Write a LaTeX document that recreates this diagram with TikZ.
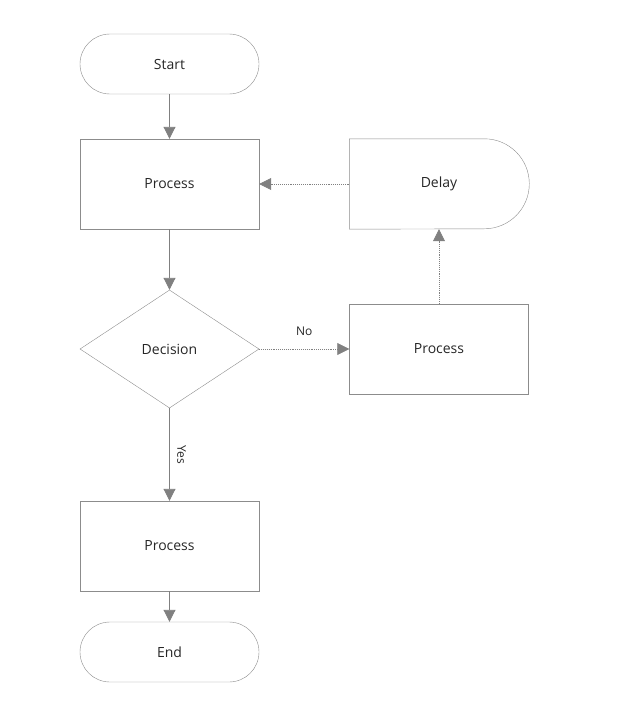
\documentclass[tikz,border=0pt]{standalone}
\usepackage{fontspec}
\setmainfont{Open Sans}
\usetikzlibrary{shapes.geometric,arrows.meta}
\tikzset{
  box/.style={draw=gray!90,minimum width=179pt,minimum height=90pt,font=\fontsize{14}{16}\selectfont,text=black!85},
  term/.style={box,rounded corners=30pt,minimum height=60pt},
  dec/.style={draw=gray!90,diamond,aspect=1.52,minimum width=179pt,minimum height=118pt,inner sep=0pt,font=\fontsize{14}{16}\selectfont,text=black!85},
  flow/.style={draw=gray,line width=0.9pt,-{Triangle[length=12pt,width=12pt]}},
  dflow/.style={flow,densely dotted,line width=0.7pt},
  lbl/.style={font=\fontsize{12}{14}\selectfont,text=black!85}
}
\begin{document}
\begin{tikzpicture}[x=1pt,y=-1pt]
  \useasboundingbox (0,0) rectangle (617,709);
  \node[term] (start) at (169.5,64) {Start};
  \node[box] (proc1) at (169.5,184) {Process};
  \node[box,draw=none] (delay) at (439,184) {Delay};
  \draw[gray!90] (delay.north west) -- ++(135,0) arc (90:-90:45pt) -- (delay.south west) -- cycle;
  \node[dec] (decide) at (169.5,349) {Decision};
  \node[box] (proc2) at (439,349) {Process};
  \node[box] (proc3) at (169.5,546) {Process};
  \node[term] (end) at (169.5,652) {End};

  \draw[flow] (start) -- (proc1);
  \draw[flow] (proc1) -- (decide);
  \draw[flow] (decide) -- node[lbl,right=4pt,rotate=-90,anchor=south] {Yes} (proc3);
  \draw[flow] (proc3) -- (end);
  \draw[dflow] (decide) -- node[lbl,above=10pt] {No} (proc2);
  \draw[dflow] (proc2) -- (delay);
  \draw[dflow] (delay) -- (proc1);
\end{tikzpicture}
\end{document}
